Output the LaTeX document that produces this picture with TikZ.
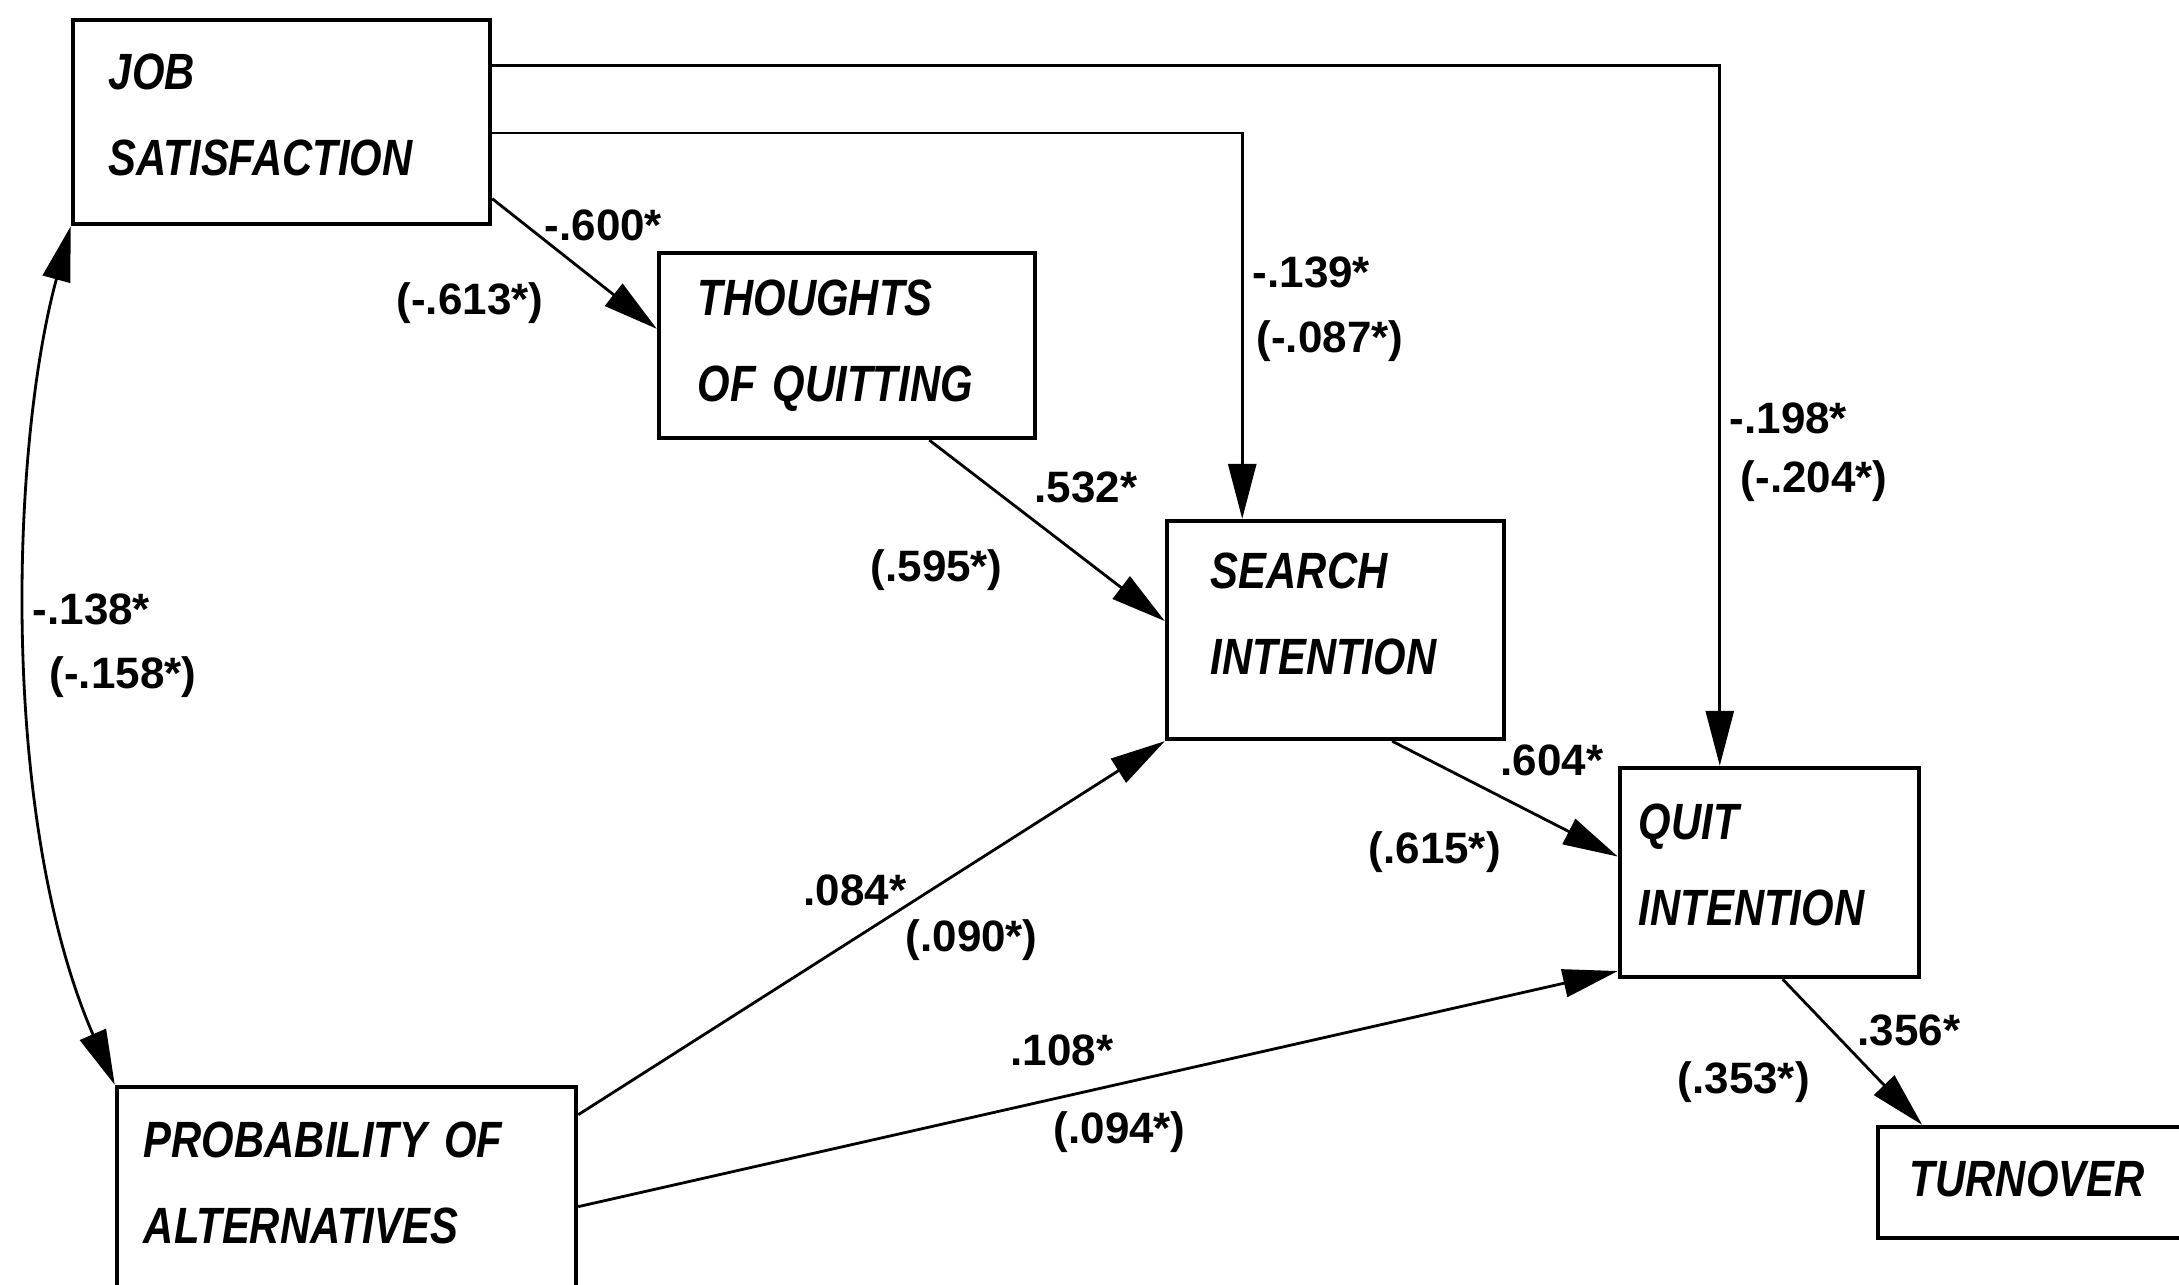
\documentclass[tikz,border=0pt]{standalone}
\usepackage{fontspec}
\setmainfont{Liberation Sans}
\newfontfamily\boxfont[FakeStretch=0.82]{Liberation Sans}
\usetikzlibrary{arrows.meta}

\tikzset{
  factor/.style={draw, line width=1.2pt, rectangle, align=left, inner ysep=0pt,
    font=\boxfont\fontsize{14.5}{24.5}\selectfont\bfseries\itshape},
  coef/.style={inner sep=0pt, anchor=west, font=\fontsize{12.5}{15}\selectfont\bfseries},
  link/.style={line width=0.8pt, -{Triangle[length=5.5mm,width=2.8mm]}},
}

\begin{document}
\begin{tikzpicture}[x=0.01cm, y=-0.01cm]
  \useasboundingbox (0,0) rectangle (2179,1285);
  % Constructs of the model
  \node[factor, minimum height=2.04cm, text width=3.45cm, inner xsep=0.36cm, text depth=28.8pt] (job) at (281.5,122) {JOB\\SATISFACTION};
  \node[factor, minimum height=1.85cm, text width=2.98cm, inner xsep=0.39cm] (thoughts) at (847,345.5) {THOUGHTS\\OF QUITTING};
  \node[factor, minimum height=2.18cm, text width=2.49cm, inner xsep=0.44cm, text depth=33.6pt] (search) at (1335.5,630) {SEARCH\\INTENTION};
  \node[factor, minimum height=2.09cm, text width=2.61cm, inner xsep=0.19cm, text depth=28.8pt] (quit) at (1769.5,872.5) {QUIT\\INTENTION};
  \node[factor, minimum height=1.11cm, text width=2.96cm, inner xsep=0.32cm, text depth=2.3pt] (turnover) at (2058,1182.5) {TURNOVER};
  \node[factor, minimum height=2.15cm, text width=4.05cm, inner xsep=0.27cm, text depth=31pt] (prob) at (346.5,1194.5) {PROBABILITY OF\\ALTERNATIVES};
  % Paths
  \draw[link] (job.-20) -- (thoughts.175);
  \draw[link] (job.-3) -| (search.130);
  \draw[link] (job.15) -| (quit.115);
  \draw[link] (thoughts.-49) -- (search.177);
  \draw[link] (search.-63) -- (quit.174);
  \draw[link] (quit.-83) -- (turnover.157);
  \draw[link] (prob.19) -- (search.south west);
  \draw[link] (prob.-3) -- (quit.213);
  % Correlation
  \draw[link, {Triangle[length=5.5mm,width=2.8mm]}-{Triangle[length=5.5mm,width=2.8mm]}]
    (job.south west) .. controls (10,450) and (0,820) .. (prob.north west);
  % Coefficients
  \node[coef] (c600) at (544,225) {-.600*};
  \node[coef] (c613) at (396,303) {(-.613*)};
  \node[coef] (c139) at (1252,272) {-.139*};
  \node[coef] (c087) at (1256,341) {(-.087*)};
  \node[coef] (c198) at (1729,418) {-.198*};
  \node[coef] (c204) at (1740,481) {(-.204*)};
  \node[coef] (c532) at (1034,487) {.532*};
  \node[coef] (c595) at (870,570) {(.595*)};
  \node[coef] (c604) at (1500,760) {.604*};
  \node[coef] (c615) at (1368,852) {(.615*)};
  \node[coef] (c356) at (1857,1030) {.356*};
  \node[coef] (c353) at (1677,1082) {(.353*)};
  \node[coef] (c084) at (803,890) {.084*};
  \node[coef] (c090) at (905,940) {(.090*)};
  \node[coef] (c108) at (1010,1050) {.108*};
  \node[coef] (c094) at (1053,1132) {(.094*)};
  \node[coef] (c138) at (32,609) {-.138*};
  \node[coef] (c158) at (49,677) {(-.158*)};
\end{tikzpicture}
\end{document}
